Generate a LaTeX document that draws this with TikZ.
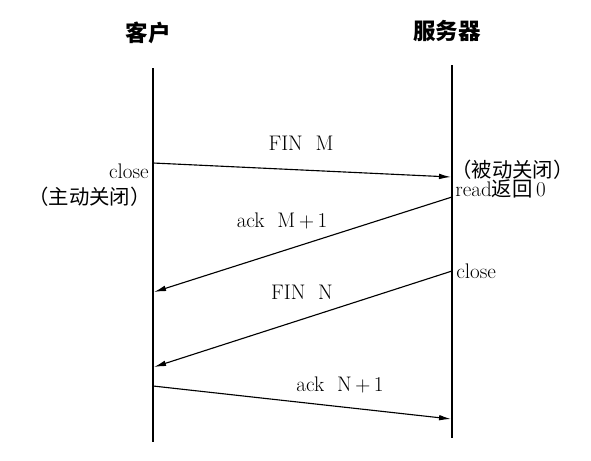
\documentclass[tikz,border=0pt]{standalone}
\usepackage{fontspec}
\newfontfamily\zhfont{Noto Sans CJK SC}
\usetikzlibrary{arrows.meta}

\tikzset{
  titulo/.style={font=\zhfont\bfseries\fontsize{16}{18}\selectfont, inner sep=0pt},
  etiq/.style={font=\fontsize{15}{17}\selectfont, inner sep=0pt},
  zh/.style={font=\zhfont\fontsize{14.5}{16}\selectfont, inner sep=0pt},
  vida/.style={thick},
  msg/.style={thick, -{Latex[length=3mm,width=1.4mm]}}
}

\begin{document}
\begin{tikzpicture}[x=0.025cm, y=-0.025cm]
\useasboundingbox (0,0) rectangle (591,460);

% Titulos
\node[titulo] (cli) at (148,33) {客户};
\node[titulo] (srv) at (447,31) {服务器};

% Lineas de vida
\coordinate (c0) at (153,68);
\coordinate (c1) at (153,442);
\coordinate (s0) at (452,65);
\coordinate (s1) at (452,438);
\draw[vida] (c0) -- (c1);
\draw[vida] (s0) -- (s1);

% Mensajes
\coordinate (m1a) at (153,163);
\coordinate (m1b) at (451,177);
\coordinate (m2a) at (452,197);
\coordinate (m2b) at (154,292);
\coordinate (m3a) at (452,271);
\coordinate (m3b) at (154,367);
\coordinate (m4a) at (153,386);
\coordinate (m4b) at (451,419);

\draw[msg] (m1a) -- (m1b);
\draw[msg] (m2a) -- (m2b);
\draw[msg] (m3a) -- (m3b);
\draw[msg] (m4a) -- (m4b);

\node[etiq, anchor=base] (finm) at (301,150) {FIN\ \ M};
\node[etiq, anchor=base] (ackm) at (282,227) {ack\ \ M$\,+\,$1};
\node[etiq, anchor=base] (finn) at (302,299) {FIN\ \ N};
\node[etiq, anchor=base] (ackn) at (340,391) {ack\ \ N$\,+\,$1};

% Estados
\node[etiq, anchor=base east] (cerrarc) at (149,178) {close};
\node[zh, anchor=east] (activo) at (151,197) {（主动关闭）};
\node[zh, anchor=west] (pasivo) at (451,170) {（被动关闭）};
\node[etiq, anchor=base west] (leer) at (455,196) {read{\zhfont\fontsize{14.5}{16}\selectfont 返回}\,0};
\node[etiq, anchor=base west] (cerrars) at (456,278) {close};
\end{tikzpicture}
\end{document}
